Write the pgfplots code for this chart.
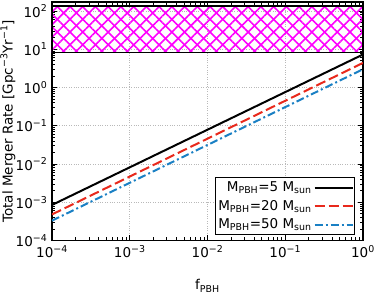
\documentclass[border=0pt]{standalone}
\usepackage{fontspec}
\setmainfont{DejaVu Sans}
\usepackage{pgfplots}
\pgfplotsset{compat=1.18}
\usetikzlibrary{patterns.meta}
\definecolor{myred}{HTML}{E8291C}
\definecolor{myblue}{HTML}{1A80C4}
\newcommand{\fs}{\fontsize{13.5}{15}\selectfont}
\begin{document}
\fs
\begin{tikzpicture}
\begin{axis}[
  name=ax,
  scale only axis,
  width=311pt, height=238.5pt,
  xmode=log, ymode=log,
  xmin=1e-4, xmax=1, ymin=1e-4, ymax=172,
  xtick={1e-4,1e-3,1e-2,1e-1,1},
  xticklabels={10\textsuperscript{−4},10\textsuperscript{−3},10\textsuperscript{−2},10\textsuperscript{−1},10\textsuperscript{0}},
  ytick={1e-4,1e-3,1e-2,1e-1,1,10,100},
  yticklabels={10\textsuperscript{−4},10\textsuperscript{−3},10\textsuperscript{−2},10\textsuperscript{−1},10\textsuperscript{0},10\textsuperscript{1},10\textsuperscript{2}},
  tick align=inside,
  major tick length=5pt, minor tick length=3pt,
  every tick/.style={black, line width=0.8pt},
  axis line style={line width=1.2pt},
  grid=major,
  grid style={dotted, gray!55, line width=0.6pt},
  xlabel={f\textsubscript{PBH}},
  ylabel={Total Merger Rate [Gpc\textsuperscript{−3}Yr\textsuperscript{−1}]},
  every axis x label/.style={at={(axis description cs:0.5,-0.19)}, anchor=center, inner sep=0pt},
  every axis y label/.style={at={(axis description cs:-0.1415,0.5)}, rotate=90, anchor=center, inner sep=0pt},
  tick label style={font=\fs},
  label style={font=\fs},
  legend plot pos=right,
  legend cell align=right,
  legend style={at={(1,0)}, anchor=south east, xshift=-8pt, yshift=5.5pt,
    draw=black, line width=0.8pt, rounded corners=0pt,
    font=\fs,
    cells={anchor=east}, row sep=2.5pt, inner xsep=1pt, inner ysep=2pt},
  legend image code/.code={\draw[line width=2pt,#1] (0pt,0pt) -- (38pt,0pt);},
]
\addplot[draw=none, pattern={Lines[angle=45,distance=9pt,line width=1.6pt]}, pattern color=magenta, forget plot]
  coordinates {(1e-4,8.35) (1,8.35) (1,135) (1e-4,135)} -- cycle;
\addplot[draw=black, line width=1.2pt, pattern={Lines[angle=-45,distance=9pt,line width=1.6pt]}, pattern color=magenta, forget plot]
  coordinates {(1e-4,8.35) (1,8.35) (1,135) (1e-4,135)} -- cycle;
\addplot[black, line width=2pt] coordinates {(1e-4,8.5e-4) (1,7.3)};
\addlegendentry{M\textsubscript{PBH}=5 M\textsubscript{sun}}
\addplot[myred, line width=2pt, dash pattern=on 10pt off 4pt] coordinates {(1e-4,4.8e-4) (1,4.4)};
\addlegendentry{M\textsubscript{PBH}=20 M\textsubscript{sun}}
\addplot[myblue, line width=2pt, dash pattern=on 8pt off 3pt on 2pt off 3pt] coordinates {(1e-4,3.3e-4) (1,3.0)};
\addlegendentry{M\textsubscript{PBH}=50 M\textsubscript{sun}}
\end{axis}
\pgfresetboundingbox
\path ([shift={(-52pt,-52.5pt)}]ax.south west) rectangle ([shift={(11pt,2pt)}]ax.north east);
\end{tikzpicture}
\end{document}
